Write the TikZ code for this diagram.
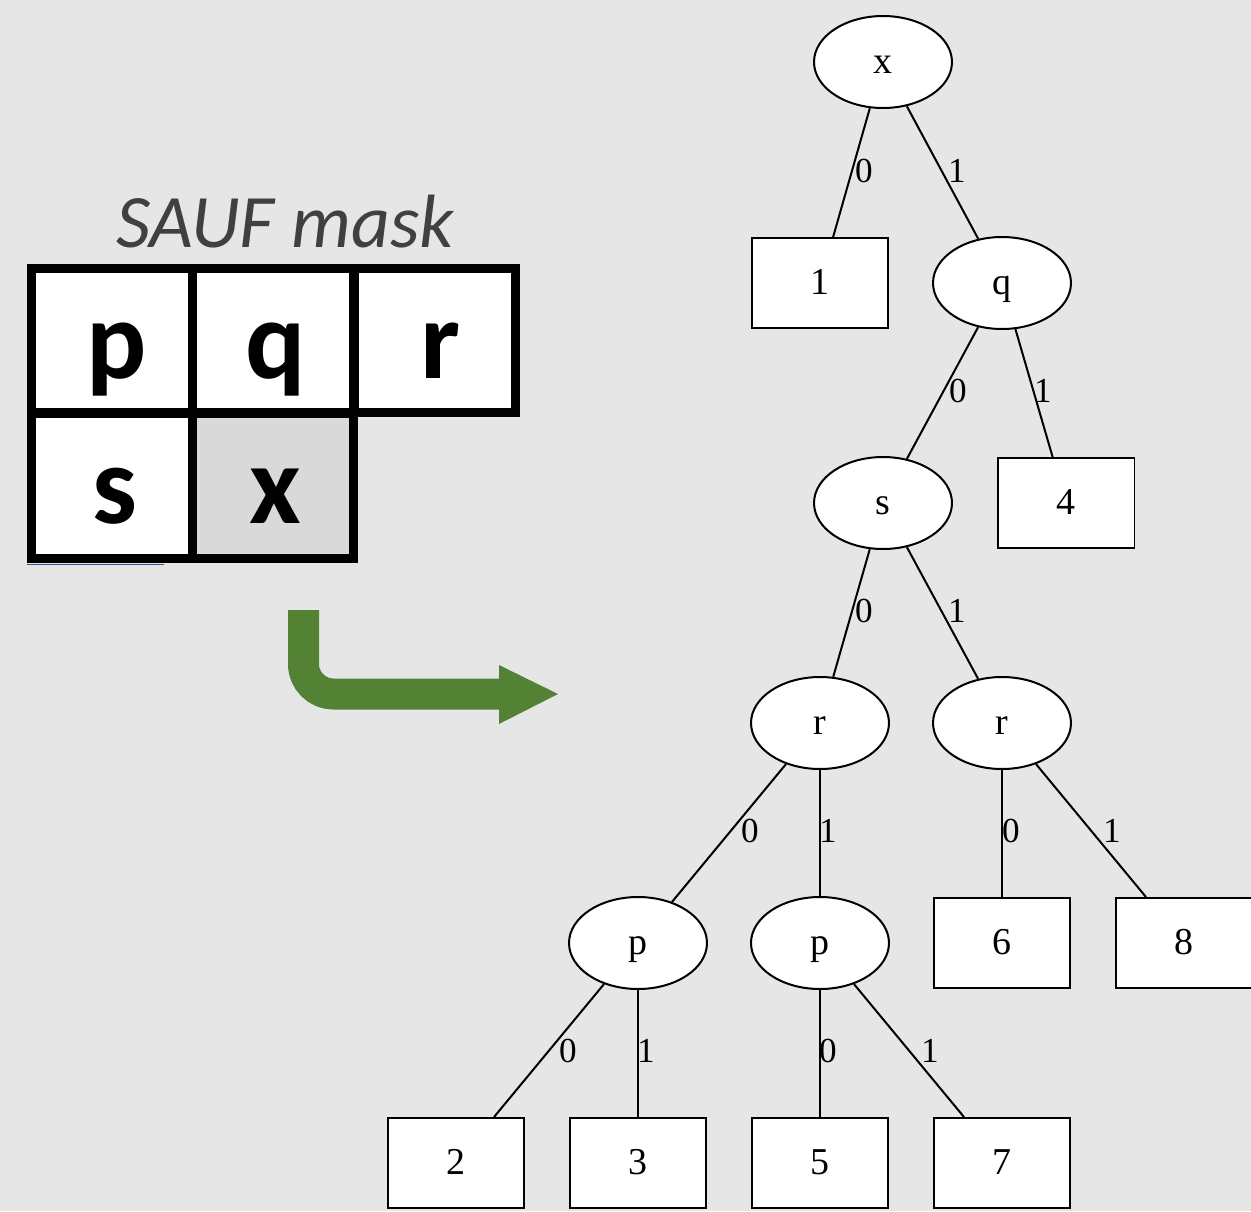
\documentclass[tikz,border=0pt]{standalone}
\usepackage{fontspec}
\setmainfont{Liberation Serif}
\newfontfamily\calibri{Carlito}
\usetikzlibrary{shapes.geometric}
\definecolor{bg}{HTML}{E6E6E6}
\definecolor{arrowgreen}{HTML}{548235}
\definecolor{cellgray}{HTML}{D9D9D9}
\definecolor{titlegray}{HTML}{404040}
\definecolor{artblue}{HTML}{2F5597}
\begin{document}
\begin{tikzpicture}[x=0.02cm,y=-0.02cm,
  cell/.style={draw=black, line width=0.18cm, fill=white, minimum width=3.22cm,
    minimum height=2.9cm, inner sep=0, outer sep=0,
    font=\calibri\bfseries\fontsize{64}{64}\selectfont, text height=1.5cm, text depth=0cm},
  dec/.style={ellipse, draw, line width=0.04cm, fill=white, minimum width=2.76cm,
    minimum height=1.84cm, inner sep=0, font=\fontsize{21.6}{22}\selectfont,
    text height=0.44cm, text depth=0cm},
  leaf/.style={rectangle, draw, line width=0.04cm, fill=white, minimum width=2.74cm,
    minimum height=1.8cm, inner sep=0, font=\fontsize{21.6}{22}\selectfont,
    text height=0.44cm, text depth=0cm},
  lbl/.style={font=\fontsize{20}{20}\selectfont, inner sep=0},
  edge/.style={line width=0.04cm}]
\fill[bg] (0,0) rectangle (1251,1211);
\useasboundingbox (0,0) rectangle (1251,1211);
% SAUF mask
\node[font=\calibri\itshape\fontsize{43}{43}\selectfont, text=titlegray, anchor=base] (title) at (285,247) {SAUF mask};
\node[cell] (cp) at (112,340.5) {\hspace{0.2cm}p};
\node[cell] (cq) at (273.25,340.5) {\hspace{0.08cm}q};
\node[cell] (cr) at (435,340.5) {\hspace{0.2cm}r};
\node[cell] (cs) at (112,485.75) {\hspace{0.12cm}s};
\node[cell, fill=cellgray] (cx) at (273.25,485.75) {\hspace{0.08cm}x};
\draw[artblue, line width=0.03cm] (27,564.5) -- (164,564.5);
% green arrow
\coordinate (a0) at (303.5,610);
\coordinate (a1) at (303.5,694);
\coordinate (a2) at (500,694);
\draw[arrowgreen, line width=0.62cm, rounded corners=0.6cm] (a0) -- (a1) -- (a2);
\fill[arrowgreen] (499,665) -- (558,694) -- (499,724) -- cycle;
% tree
\node[dec] (x) at (883,62) {x};
\node[leaf] (l1) at (820,283) {1};
\node[dec] (q) at (1002,283) {q};
\node[dec] (s) at (883,503) {s};
\node[leaf] (l4) at (1066,503) {4};
\node[dec] (ra) at (820,723) {r};
\node[dec] (rb) at (1002,723) {r};
\node[dec] (pa) at (638,943) {p};
\node[dec] (pb) at (820,943) {p};
\node[leaf] (l6) at (1002,943) {6};
\node[leaf] (l8) at (1184,943) {8};
\node[leaf] (l2) at (456,1163) {2};
\node[leaf] (l3) at (638,1163) {3};
\node[leaf] (l5) at (820,1163) {5};
\node[leaf] (l7) at (1002,1163) {7};
\draw[edge] (x) -- (l1);  \node[lbl] at (864,171) {0};
\draw[edge] (x) -- (q);   \node[lbl] at (957,171) {1};
\draw[edge] (q) -- (s);   \node[lbl] at (958,391) {0};
\draw[edge] (q) -- (l4);  \node[lbl] at (1043,391) {1};
\draw[edge] (s) -- (ra);  \node[lbl] at (864,611) {0};
\draw[edge] (s) -- (rb);  \node[lbl] at (957,611) {1};
\draw[edge] (ra) -- (pa); \node[lbl] at (750,831) {0};
\draw[edge] (ra) -- (pb); \node[lbl] at (828,831) {1};
\draw[edge] (rb) -- (l6); \node[lbl] at (1011,831) {0};
\draw[edge] (rb) -- (l8); \node[lbl] at (1112,831) {1};
\draw[edge] (pa) -- (l2); \node[lbl] at (568,1051) {0};
\draw[edge] (pa) -- (l3); \node[lbl] at (646,1051) {1};
\draw[edge] (pb) -- (l5); \node[lbl] at (828,1051) {0};
\draw[edge] (pb) -- (l7); \node[lbl] at (930,1051) {1};
\end{tikzpicture}
\end{document}
